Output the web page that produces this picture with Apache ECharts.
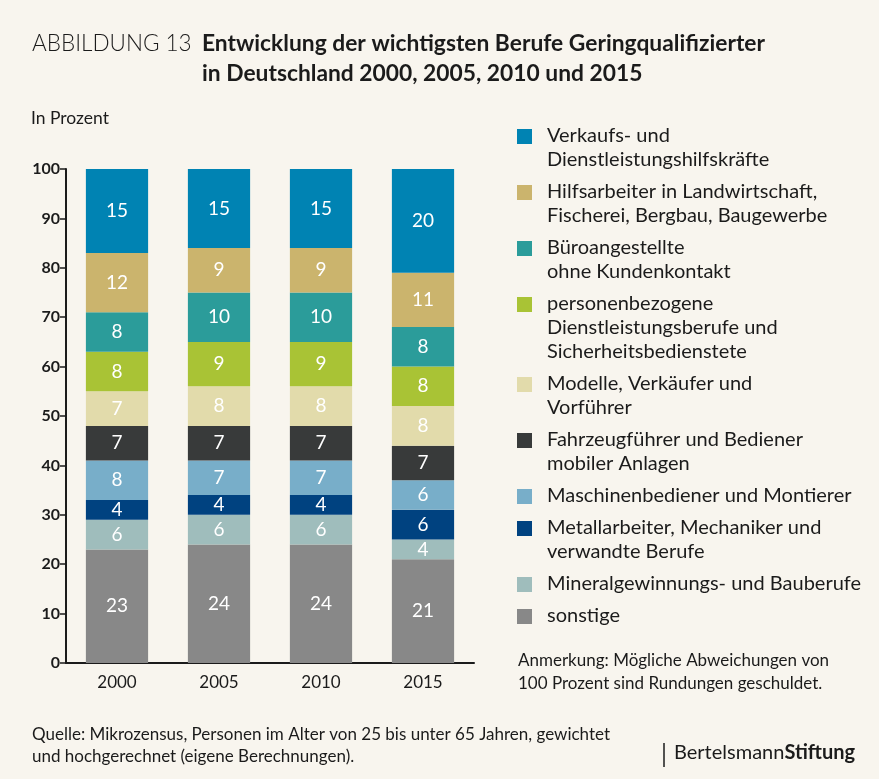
<!DOCTYPE html>
<html>
<head>
<meta charset="utf-8">
<script src="https://cdn.jsdelivr.net/npm/echarts@6/dist/echarts.min.js"></script>
<style>
  html, body { margin: 0; padding: 0; background: #f8f5ee; }
  #chart { width: 879px; height: 779px; }
</style>
</head>
<body>
<div id="chart"></div>
<script>
  // Jahre auf der x-Achse
  const years = ['2000', '2005', '2010', '2015'];

  // Segmenthöhen wie gezeichnet (von unten nach oben gestapelt)
  const sonstige = [23, 24, 24, 21];
  const mineral = [6, 6, 6, 4];
  const metall = [4, 4, 4, 6];
  const maschinen = [8, 7, 7, 6];
  const fahrzeug = [7, 7, 7, 7];
  const modelle = [7, 8, 8, 8];
  const personen = [8, 9, 9, 8];
  const buero = [8, 10, 10, 8];
  const hilfs = [12, 9, 9, 11];
  // oberstes Segment reicht bis 100, beschriftet ist aber der gerundete Wert
  const verkaufHoehe = [17, 16, 16, 21];
  const verkaufWert = [15, 15, 15, 20];

  const yMin = 0, yMax = 100, yStep = 10;

  const reihen = [
    { name: 'sonstige', data: sonstige, color: '#888888' },
    { name: 'Mineralgewinnungs- und Bauberufe', data: mineral, color: '#9fbdbc' },
    { name: 'Metallarbeiter, Mechaniker und\nverwandte Berufe', data: metall, color: '#004280' },
    { name: 'Maschinenbediener und Montierer', data: maschinen, color: '#78aec9' },
    { name: 'Fahrzeugführer und Bediener\nmobiler Anlagen', data: fahrzeug, color: '#383a3a' },
    { name: 'Modelle, Verkäufer und\nVorführer', data: modelle, color: '#e2dbab' },
    { name: 'personenbezogene\nDienstleistungsberufe und\nSicherheitsbedienstete', data: personen, color: '#a9c335' },
    { name: 'Büroangestellte\nohne Kundenkontakt', data: buero, color: '#2b9c9a' },
    { name: 'Hilfsarbeiter in Landwirtschaft,\nFischerei, Bergbau, Baugewerbe', data: hilfs, color: '#cbb46d' },
    { name: 'Verkaufs- und\nDienstleistungshilfskräfte', data: verkaufHoehe, labels: verkaufWert, color: '#0083b3' }
  ];

  const font = 'Lato, "Noto Sans", sans-serif';
  const ink = '#1b1b1b';

  // Legende rechts: Kästchen an der ersten Textzeile, daher als graphic
  const legende = [];
  let ly = 124;
  reihen.slice().reverse().forEach(r => {
    const zeilen = r.name.split('\n').length;
    legende.push({
      type: 'rect', left: 517, top: ly + 5, shape: { width: 15, height: 15 },
      style: { fill: r.color }
    });
    legende.push({
      type: 'text', left: 547, top: ly,
      style: { text: r.name, font: '20px ' + font, fill: ink, lineHeight: 24 }
    });
    ly += zeilen * 24 + 8;
  });

  const chart = echarts.init(document.getElementById('chart'));
  chart.setOption({
    backgroundColor: '#f8f5ee',
    animation: false,
    title: [
      {
        text: 'ABBILDUNG 13', left: 32, top: 29, padding: 0,
        textStyle: { fontFamily: font, fontWeight: 300, fontSize: 22.5, color: ink, lineHeight: 30 }
      },
      {
        text: 'Entwicklung der wichtigsten Berufe Geringqualifizierter\nin Deutschland 2000, 2005, 2010 und 2015',
        left: 202, top: 29, padding: 0,
        textStyle: { fontFamily: font, fontWeight: 'bold', fontSize: 22.8, color: ink, lineHeight: 30 }
      },
      {
        text: 'In Prozent', left: 31, top: 108, padding: 0,
        textStyle: { fontFamily: font, fontWeight: 'normal', fontSize: 17.5, color: ink, lineHeight: 20 }
      }
    ],
    grid: { left: 66, top: 169, width: 408, height: 494 },
    xAxis: {
      type: 'category',
      data: years,
      axisLine: { lineStyle: { color: ink, width: 2 } },
      axisTick: { show: false },
      axisLabel: { fontFamily: font, fontSize: 17, color: ink, margin: 11 }
    },
    yAxis: {
      type: 'value',
      min: yMin, max: yMax, interval: yStep,
      splitLine: { show: false },
      axisLine: { show: true, lineStyle: { color: ink, width: 2 } },
      axisTick: { show: true, length: 6, lineStyle: { color: ink, width: 1.5 } },
      axisLabel: { fontFamily: font, fontSize: 16, fontWeight: 'bold', color: ink, margin: 6 }
    },
    series: reihen.map(r => ({
      type: 'bar',
      name: r.name,
      stack: 'gesamt',
      barWidth: '61%',
      data: r.data,
      itemStyle: { color: r.color },
      label: {
        show: true,
        position: 'inside',
        color: '#ffffff',
        fontFamily: font,
        fontSize: 19,
        formatter: p => String(r.labels ? r.labels[p.dataIndex] : p.value)
      }
    })),
    graphic: legende.concat([
      {
        type: 'text', left: 518, top: 649,
        style: {
          text: 'Anmerkung: Mögliche Abweichungen von\n100 Prozent sind Rundungen geschuldet.',
          font: '17px ' + font, fill: ink, lineHeight: 23
        }
      },
      {
        type: 'text', left: 32, top: 724,
        style: {
          text: 'Quelle: Mikrozensus, Personen im Alter von 25 bis unter 65 Jahren, gewichtet\nund hochgerechnet (eigene Berechnungen).',
          font: '17px ' + font, fill: ink, lineHeight: 22
        }
      },
      {
        type: 'line', shape: { x1: 664, y1: 743, x2: 664, y2: 767 },
        style: { stroke: ink, lineWidth: 1.5 }
      },
      {
        type: 'text', left: 674, top: 743,
        style: {
          text: '{r|Bertelsmann}{b|Stiftung}',
          rich: {
            r: { font: '20px ' + font, fill: ink },
            b: { font: 'bold 20px ' + font, fill: ink }
          }
        }
      }
    ])
  });
</script>
</body>
</html>
